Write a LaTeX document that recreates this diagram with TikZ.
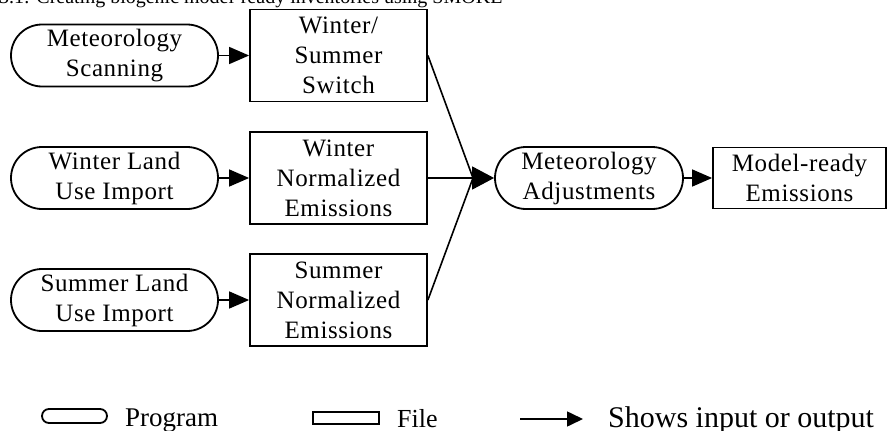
\documentclass[tikz,border=0pt]{standalone}
\usepackage{fontspec}
\setmainfont{Liberation Serif}[LetterSpace=2.5]
\newfontfamily\legfont{Liberation Serif}
\usetikzlibrary{arrows.meta}
\tikzset{
  prog/.style={draw, line width=1.8pt, rounded corners=31pt, minimum width=207pt, minimum height=62pt, inner sep=0pt, align=center, font=\fontsize{25}{30}\selectfont},
  filebox/.style={draw, line width=1.8pt, minimum width=177pt, minimum height=92pt, inner sep=0pt, align=center, font=\fontsize{25}{30}\selectfont},
  conn/.style={line width=1.6pt},
  arr/.style={conn, -{Triangle[length=20pt,width=17pt]}},
  bigarr/.style={conn, -{Triangle[length=22pt,width=23pt]}},
  legtext/.style={anchor=base west, inner sep=0pt}
}
\begin{document}
\begin{tikzpicture}[x=1pt,y=-1pt]
\useasboundingbox (0,0) rectangle (887,431);
\node[anchor=base west, inner sep=0pt, font=\legfont\fontsize{20}{24}\selectfont] (title) at (-1,4) {3.1: Creating biogenic model-ready inventories using SMOKE};
% programs
\node[prog] (scan) at (114.5,55.5) {Meteorology\\Scanning};
\node[prog] (wland) at (114.5,178) {Winter Land\\Use Import};
\node[prog] (sland) at (114.5,300) {Summer Land\\Use Import};
% files
\node[filebox] (switch) at (338.5,55.5) {Winter/\\Summer\\Switch};
\node[filebox] (wnorm) at (338.5,178) {Winter\\Normalized\\Emissions};
\node[filebox] (snorm) at (338.5,300) {Summer\\Normalized\\Emissions};
\node[prog, minimum width=188pt] (adj) at (589,178) {Meteorology\\Adjustments};
\node[filebox, minimum width=173pt, minimum height=61pt] (model) at (799.5,178) {Model-ready\\Emissions};
% connectors
\draw[arr] (scan) -- (switch);
\draw[arr] (wland) -- (wnorm);
\draw[arr] (sland) -- (snorm);
\coordinate (m) at (473,178);
\draw[conn] (switch.east) -- (m);
\draw[conn] (snorm.east) -- (m);
\draw[bigarr] (wnorm.east) -- (adj.west);
\draw[arr] (adj) -- (model);
% legend
\node[draw, line width=1.8pt, rounded corners=7pt, minimum width=65pt, minimum height=14pt, inner sep=0pt] (lprog) at (74.5,416) {};
\node[legtext, font=\legfont\fontsize{27}{30}\selectfont] (lprogt) at (125,426) {Program};
\node[draw, line width=1.8pt, minimum width=66pt, minimum height=12pt, inner sep=0pt] (lfile) at (346,418) {};
\node[legtext, font=\legfont\fontsize{26}{30}\selectfont] (lfilet) at (397,427) {File};
\coordinate (la) at (520,419);
\coordinate (lb) at (583,419);
\draw[conn, -{Triangle[length=16pt,width=15pt]}] (la) -- (lb);
\node[legtext, font=\legfont\fontsize{30}{30}\selectfont] (larrt) at (608,427) {Shows input or output};
\end{tikzpicture}
\end{document}
